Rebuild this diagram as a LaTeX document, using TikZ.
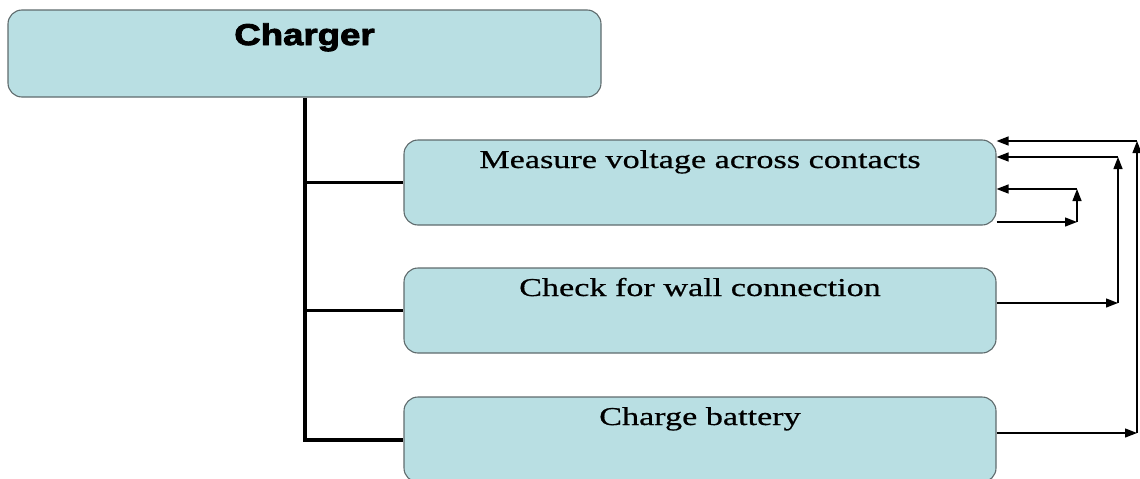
\documentclass[tikz,border=0pt]{standalone}
\usepackage{fontspec}
\usetikzlibrary{arrows.meta}
\newfontfamily\boxfont[FakeStretch=1.33,FakeBold=0.6]{Liberation Serif}
\newfontfamily\headfont[FakeStretch=1.22,FakeBold=3]{Liberation Sans}
\definecolor{boxfill}{HTML}{B9DFE3}
\definecolor{boxline}{HTML}{5F6B6D}
\begin{document}
\begin{tikzpicture}[x=1pt, y=-1pt,
    task/.style={draw=boxline, fill=boxfill, line width=1.1pt, rounded corners=14pt,
        inner sep=0pt, minimum width=592pt, text height=28pt, text depth=57pt,
        font=\boxfont\fontsize{25.7}{30}\selectfont},
    head/.style={task, minimum width=593pt, text height=35pt, text depth=52pt,
        font=\headfont\bfseries\fontsize{30}{34}\selectfont},
    tree/.style={line width=3pt},
    flow/.style={line width=1.3pt, -{Triangle[length=12pt,width=9pt]}}]
    \useasboundingbox (0,0) rectangle (1140,479);
    \clip (0,0) rectangle (1140,479);
    % Boxes
    \node[head] (charger) at (304.5,53.5) {Charger};
    \node[task] (measure) at (700,182.5) {Measure voltage across contacts};
    \node[task] (wall) at (700,310.5) {Check for wall connection};
    \node[task] (charge) at (700,439.5) {Charge battery};
    % Tree lines
    \draw[tree, line width=4pt] (charger.south) |- (charge.west);
    \draw[tree] (charger.south |- measure.west) -- (measure.west);
    \draw[tree] (charger.south |- wall.west) -- (wall.west);
    % Feedback arrows
    \coordinate (outA) at (1137,433);
    \coordinate (topA) at (1137,141);
    \coordinate (outB) at (1118,303);
    \coordinate (topB) at (1118,157);
    \coordinate (outC) at (1077,222);
    \coordinate (topC) at (1077,189);
    \draw[flow] (charge.east |- outA) -- (outA);
    \draw[flow] (outA) -- (topA);
    \draw[flow] (topA) -- (measure.east |- topA);
    \draw[flow] (wall.east |- outB) -- (outB);
    \draw[flow] (outB) -- (topB);
    \draw[flow] (topB) -- (measure.east |- topB);
    \draw[flow] (measure.east |- outC) -- (outC);
    \draw[flow] (outC) -- (topC);
    \draw[flow] (topC) -- (measure.east |- topC);
\end{tikzpicture}
\end{document}
